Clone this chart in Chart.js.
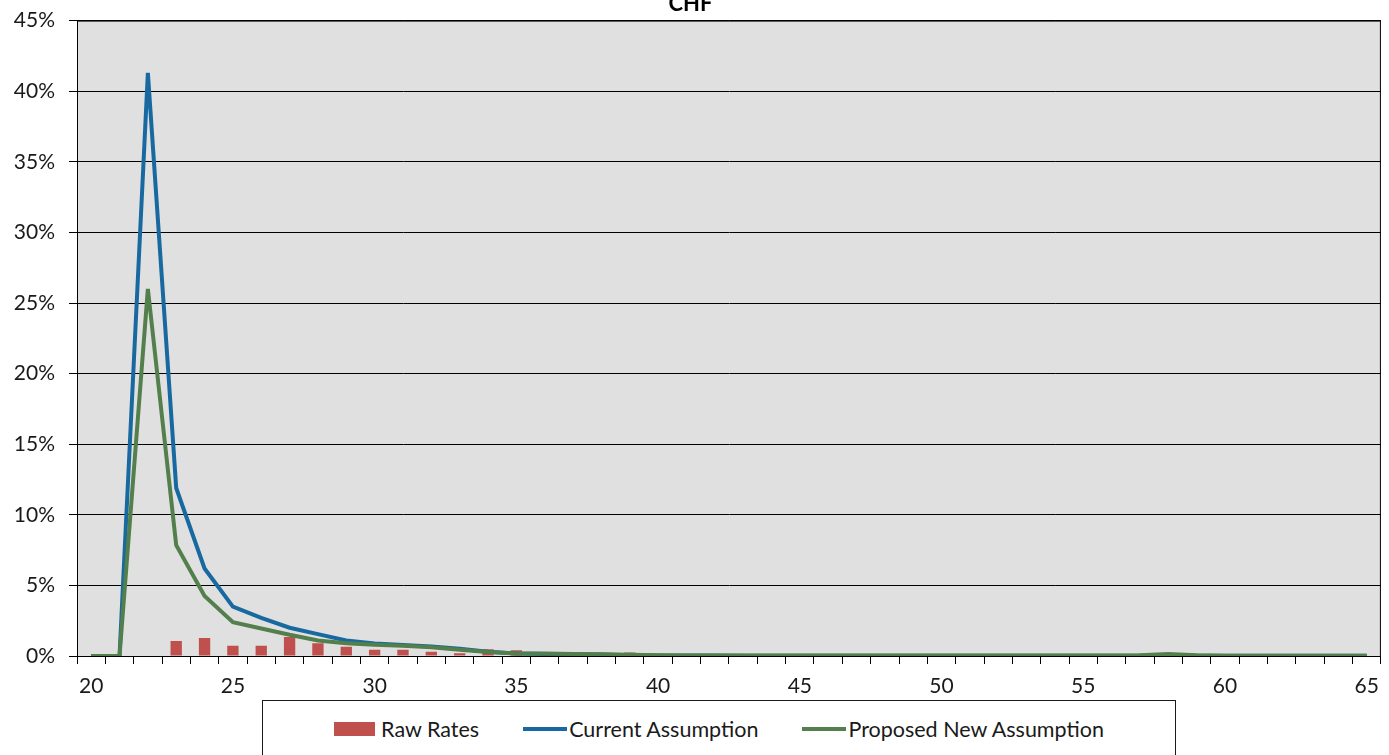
<!DOCTYPE html>
<html>
<head>
<meta charset="utf-8">
<script src="https://cdn.jsdelivr.net/npm/chart.js@4.4.0/dist/chart.umd.min.js"></script>
<style>
  html, body { margin: 0; padding: 0; background: #fff; overflow: hidden; }
  #wrap { position: relative; width: 1389px; height: 755px; overflow: hidden; }
  #c { position: absolute; left: 0; top: -6px; }
  #legend {
    position: absolute; left: 262px; top: 700px; width: 914px; height: 80px;
    box-sizing: border-box; border: 1px solid #1a1a1a; background: #fff;
    display: flex; justify-content: center; align-items: flex-start; padding-top: 15px;
    font-family: Lato, sans-serif; font-size: 21.5px; color: #1a1a1a;
  }
  #legend .item { display: flex; align-items: center; margin: 0 22px; white-space: nowrap; }
  #legend .mk { display: inline-block; margin-right: 6px; }
  #legend .box { width: 41px; height: 14px; }
  #legend .line { width: 44px; height: 4px; margin-right: 2px; }
</style>
</head>
<body>
<div id="wrap">
  <canvas id="c" width="1389" height="761"></canvas>
  <div id="legend"></div>
</div>
<script>
// age categories
const ages = [20, 21, 22, 23, 24, 25, 26, 27, 28, 29, 30, 31, 32, 33, 34, 35, 36, 37, 38, 39, 40,
  41, 42, 43, 44, 45, 46, 47, 48, 49, 50, 51, 52, 53, 54, 55, 56, 57, 58, 59, 60, 61, 62, 63, 64, 65];

// rates in percent
const rawRates = [0, 0, 0, 1.06, 1.27, 0.73, 0.73, 1.34, 0.9, 0.65, 0.45, 0.45, 0.3, 0.2, 0.47, 0.4, 0, 0, 0, 0.25, 0,
  0, 0, 0, 0, 0, 0, 0, 0, 0, 0, 0, 0, 0, 0, 0, 0, 0, 0, 0, 0, 0, 0, 0, 0, 0];
const currentAssumption = [0, 0, 41.3, 11.9, 6.2, 3.5, 2.7, 2.0, 1.55, 1.1, 0.88, 0.78, 0.68, 0.52, 0.3, 0.18, 0.15, 0.13, 0.1, 0.06, 0.04,
  0.03, 0.03, 0.02, 0.02, 0.02, 0.02, 0.02, 0.02, 0.02, 0.02, 0.02, 0.02, 0.02, 0.02, 0.02, 0.02, 0.02, 0.02, 0.02, 0.02, 0.02, 0.02, 0.02, 0.02, 0.02];
const proposedAssumption = [0, 0, 26.0, 7.85, 4.25, 2.4, 1.95, 1.5, 1.1, 0.9, 0.8, 0.72, 0.62, 0.45, 0.28, 0.18, 0.17, 0.15, 0.12, 0.08, 0.05,
  0.04, 0.03, 0.03, 0.03, 0.03, 0.03, 0.03, 0.03, 0.03, 0.03, 0.03, 0.03, 0.03, 0.03, 0.03, 0.03, 0.06, 0.15, 0.05, 0.02, 0.02, 0.02, 0.02, 0.02, 0.02];

const yMax = 45, yStep = 5;

const FONT = 'Lato, "Open Sans", sans-serif';
const TEXT = '#1a1a1a';

// grey plot area + border
const plotBox = {
  id: 'plotBox',
  beforeDraw(chart) {
    const a = chart.chartArea, ctx = chart.ctx;
    ctx.save();
    ctx.fillStyle = '#e0e0e0';
    ctx.fillRect(a.left, a.top, a.right - a.left, a.bottom - a.top);
    ctx.restore();
  },
  afterDraw(chart) {
    const a = chart.chartArea, ctx = chart.ctx;
    ctx.save();
    ctx.strokeStyle = '#000';
    ctx.lineWidth = 1;
    ctx.strokeRect(a.left + 0.5, a.top + 0.5, a.right - a.left - 1, a.bottom - a.top);
    ctx.restore();
  }
};

const chart = new Chart(document.getElementById('c'), {
  type: 'bar',
  data: {
    labels: ages,
    datasets: [
      {
        label: 'Raw Rates',
        data: rawRates,
        backgroundColor: '#c0504d',
        borderColor: '#c0504d',
        borderWidth: 0,
        barPercentage: 0.4,
        categoryPercentage: 1,
        order: 3
      },
      {
        type: 'line',
        label: 'Current Assumption',
        data: currentAssumption,
        borderColor: '#18699f',
        backgroundColor: '#18699f',
        borderWidth: 4,
        pointRadius: 0,
        tension: 0,
        order: 2
      },
      {
        type: 'line',
        label: 'Proposed New Assumption',
        data: proposedAssumption,
        borderColor: '#527f4b',
        backgroundColor: '#527f4b',
        borderWidth: 4,
        pointRadius: 0,
        tension: 0,
        order: 1
      }
    ]
  },
  options: {
    responsive: false,
    animation: false,
    layout: { padding: { left: 0, right: 8, top: 0, bottom: 55 } },
    plugins: {
      legend: { display: false },
      tooltip: { enabled: false },
      title: {
        display: true,
        text: 'CHF',
        color: '#000',
        font: { family: FONT, size: 22, weight: 'bold' },
        padding: { top: -9, bottom: 3 }
      }
    },
    scales: {
      x: {
        offset: true,
        afterFit(scale) { scale.height = 44; },
        grid: { offset: true, drawOnChartArea: false, drawTicks: true, tickLength: 8, color: '#000' },
        border: { color: '#000', width: 1 },
        ticks: {
          autoSkip: false,
          maxRotation: 0,
          padding: 10,
          color: TEXT,
          font: { family: FONT, size: 21 },
          callback(v, i) { return ages[i] % 5 === 0 ? String(ages[i]) : ''; }
        }
      },
      y: {
        min: 0,
        max: yMax,
        afterFit(scale) { scale.width = 77; },
        grid: { color: '#000', lineWidth: 1, drawTicks: true, tickLength: 8 },
        border: { color: '#000', width: 1 },
        ticks: {
          stepSize: yStep,
          padding: 14,
          color: TEXT,
          font: { family: FONT, size: 21 },
          callback(v) { return v + '%'; }
        }
      }
    }
  },
  plugins: [plotBox]
});

// html legend built from the datasets
const legendEl = document.getElementById('legend');
chart.data.datasets.forEach(ds => {
  const item = document.createElement('span');
  item.className = 'item';
  const mk = document.createElement('span');
  mk.className = 'mk ' + (ds.type === 'line' ? 'line' : 'box');
  mk.style.background = ds.type === 'line' ? ds.borderColor : ds.backgroundColor;
  item.appendChild(mk);
  item.appendChild(document.createTextNode(ds.label));
  legendEl.appendChild(item);
});
</script>
</body>
</html>
